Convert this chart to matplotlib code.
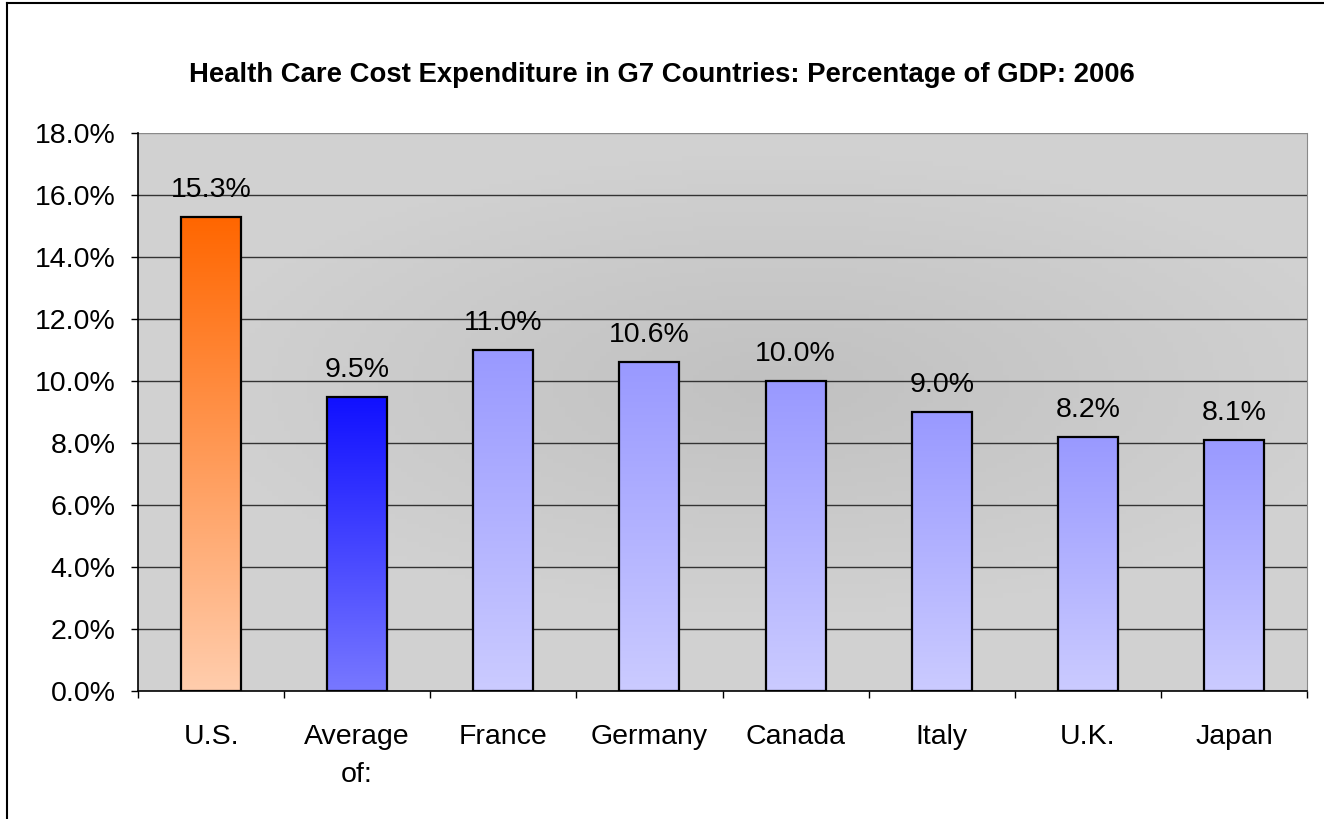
import matplotlib
matplotlib.use("Agg")
import matplotlib.pyplot as plt
import numpy as np
from matplotlib.colors import LinearSegmentedColormap, to_rgb

# Chart data
categories = ["U.S.", "Average\nof:", "France", "Germany", "Canada", "Italy", "U.K.", "Japan"]
values = [15.3, 9.5, 11.0, 10.6, 10.0, 9.0, 8.2, 8.1]
labels = ["15.3%", "9.5%", "11.0%", "10.6%", "10.0%", "9.0%", "8.2%", "8.1%"]
# (top colour, bottom colour) for each bar
bar_colors = [("#FF6600", "#FFCDAD")] + [("#1010FF", "#7878FF")] + [("#9999FF", "#CBCBFF")] * 6
yticks = [0, 2, 4, 6, 8, 10, 12, 14, 16, 18]

plt.rcParams["font.family"] = ["Liberation Sans", "DejaVu Sans"]

fig = plt.figure(figsize=(13.24, 8.19), dpi=100)
ax = fig.add_axes([138 / 1324, 1 - 691 / 819, (1307 - 138) / 1324, (691 - 133) / 819])

n = len(categories)
x = np.arange(n)
width = 0.41

# plot area background: soft radial grey gradient
gx, gy = np.meshgrid(np.linspace(-1, 1, 200), np.linspace(-1, 1, 120))
r = np.clip(np.sqrt(((gx - 0.1) * 1.0) ** 2 + ((gy - 0.1) * 1.2) ** 2), 0, 1)
bg = 0.755 + 0.065 * r
ax.imshow(np.dstack([bg, bg, bg]), extent=[-0.5, n - 0.5, 0, 18], aspect="auto", zorder=0, origin="lower")

# grid lines
for t in yticks[1:]:
    ax.axhline(t, color="#8a8a8a" if t == 18 else "#333333", lw=1.0, zorder=1)

# gradient bars
for xi, v, (top, bot) in zip(x, values, bar_colors):
    cmap = LinearSegmentedColormap.from_list("g", [to_rgb(bot), to_rgb(top)])
    grad = np.linspace(0, 1, 256).reshape(-1, 1)
    ax.imshow(grad, cmap=cmap, extent=[xi - width / 2, xi + width / 2, 0, v],
              aspect="auto", origin="lower", zorder=2)
    ax.bar(xi, v, width=width, facecolor="none", edgecolor="black", lw=1.6, zorder=3)

for xi, v, lab in zip(x, values, labels):
    ax.text(xi, v + 0.45, lab, ha="center", va="bottom", fontsize=20.5, zorder=4)

ax.set_xlim(-0.5, n - 0.5)
ax.set_ylim(0, 18)
ax.set_yticks(yticks)
ax.set_yticklabels([f"{t:.1f}%" for t in yticks], fontsize=20.5)
ax.tick_params(axis="y", length=5, width=1, pad=11)

# category boundaries carry the x tick marks
ax.set_xticks(np.arange(n + 1) - 0.5)
ax.set_xticklabels([])
ax.tick_params(axis="x", length=5, width=1)
for xi, c in zip(x, categories):
    ax.text(xi, -1.05, c, ha="center", va="top", fontsize=20.5, linespacing=1.6)

ax.spines["top"].set_visible(False)
ax.spines["right"].set_color("#8a8a8a")
ax.spines["left"].set_linewidth(1.2)
ax.spines["bottom"].set_linewidth(1.2)

fig.text(0.5, 1 - 75 / 819, "Health Care Cost Expenditure in G7 Countries: Percentage of GDP: 2006",
         ha="center", va="center", fontsize=19.8, fontweight="bold")

# chart border (left and top visible)
fig.add_artist(plt.Line2D([7 / 1324, 7 / 1324], [0, 1 - 3 / 819], color="black", lw=1.5))
fig.add_artist(plt.Line2D([7 / 1324, 1], [1 - 3 / 819, 1 - 3 / 819], color="black", lw=1.5))

fig.savefig("out.png", dpi=100)
